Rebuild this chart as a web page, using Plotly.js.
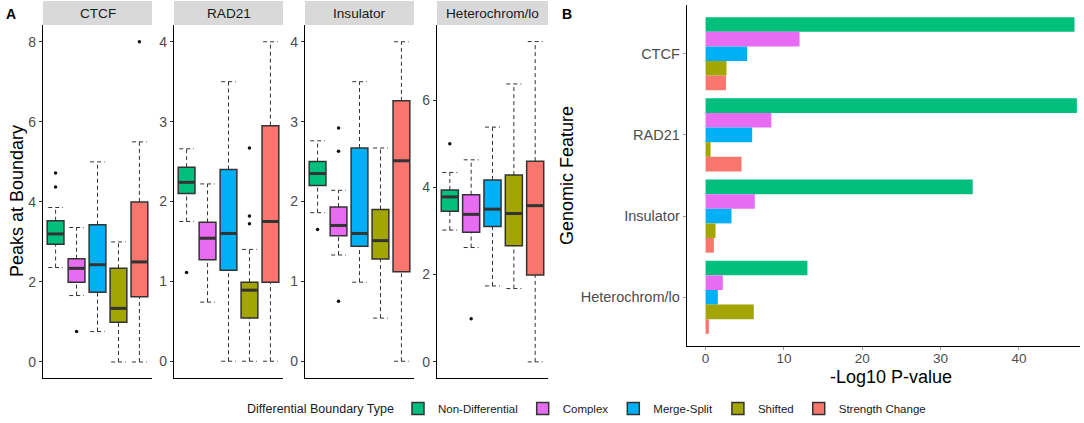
<!DOCTYPE html>
<html><head><meta charset="utf-8">
<script src="https://cdn.plot.ly/plotly-3.0.1.min.js"></script>
<style>html,body{margin:0;padding:0;background:#fff}#chart{width:1084px;height:423px}</style>
</head><body><div id="chart"></div><script>
const groups = ['Non-Differential','Complex','Merge-Split','Shifted','Strength Change'];
const colors = ['#00BF7D','#E76BF3','#00B0F6','#A3A500','#F8766D'];
const features = ['CTCF','RAD21','Insulator','Heterochrom/lo'];

// box statistics: rows = features, columns = groups
const whiskerLow  = [[2.36,1.66,0.76,0,0],[1.75,0.74,0,0,0],[1.86,1.33,0.99,0.54,0],[3.02,2.62,1.74,1.68,0]];
const q1          = [[2.94,1.99,1.74,0.99,1.63],[2.10,1.27,1.14,0.54,0.99],[2.20,1.57,1.44,1.28,1.12],[3.45,2.97,3.10,2.66,1.99]];
const med         = [[3.20,2.34,2.43,1.34,2.50],[2.24,1.54,1.60,0.89,1.75],[2.35,1.70,1.60,1.51,2.51],[3.78,3.38,3.50,3.40,3.58]];
const q3          = [[3.53,2.58,3.43,2.34,4.00],[2.43,1.74,2.40,0.99,2.95],[2.50,1.93,2.67,1.90,3.26],[3.94,3.83,4.17,4.28,4.60]];
const whiskerHigh = [[3.86,3.36,5.00,3.00,5.50],[2.66,2.22,3.50,1.40,4.00],[2.76,2.14,3.50,2.67,4.00],[4.34,4.63,5.38,6.37,7.34]];

const outlierFeature = [0,0,0,0,1,1,1,1,2,2,2,2,3,3];
const outlierGroup   = [0,0,1,4,0,3,3,3,0,1,1,1,0,1];
const outlierValue   = [4.72,4.37,0.76,8.0,1.11,2.67,1.82,1.72,1.65,2.92,2.63,0.75,5.0,0.99];

// -log10 p-values: rows = features, columns = groups
const pvals = [[47.1,12.0,5.3,2.67,2.6],[47.4,8.4,5.95,0.64,4.59],[34.1,6.28,3.31,1.27,1.06],[13.0,2.2,1.57,6.16,0.42]];

const yTickStep = [2,1,1,2];
const yRanges = [[-0.4,8.42],[-0.21,4.21],[-0.21,4.21],[-0.37,7.72]];

const W = 1084, H = 423;
const facetPx = [[43,152],[174,283],[305,414],[437,548]];
const yDomA = [(H-378)/H, (H-25)/H];
const font = 'Liberation Sans, Arial, sans-serif';
const tickGrey = '#4D4D4D';

const traces = [];
const boxHalf = 0.4, capHalf = 0.35;
features.forEach((f, fi) => {
  const ax = fi === 0 ? '' : String(fi+1);
  groups.forEach((g, gi) => {
    traces.push({
      type:'box', name:g, legendgroup:g, showlegend: fi===0,
      x:[gi+1], q1:[q1[fi][gi]], median:[med[fi][gi]], q3:[q3[fi][gi]],
      lowerfence:[q1[fi][gi]], upperfence:[q3[fi][gi]],
      width: 2*boxHalf, whiskerwidth:0, boxpoints:false,
      fillcolor: colors[gi], line:{color:'#333333', width:1.5},
      xaxis:'x'+ax, yaxis:'y'+ax, hoverinfo:'skip'
    });
  });
  // whiskers (dashed)
  const wx = [], wy = [];
  groups.forEach((g, gi) => {
    const c = gi+1;
    wx.push(c, c, null, c, c, null, c-capHalf, c+capHalf, null, c-capHalf, c+capHalf, null);
    wy.push(whiskerLow[fi][gi], q1[fi][gi], null, q3[fi][gi], whiskerHigh[fi][gi], null,
            whiskerLow[fi][gi], whiskerLow[fi][gi], null, whiskerHigh[fi][gi], whiskerHigh[fi][gi], null);
  });
  traces.push({type:'scatter', mode:'lines', x:wx, y:wy, showlegend:false, hoverinfo:'skip',
    line:{color:'#333333', width:1, dash:'4px,3px'}, xaxis:'x'+ax, yaxis:'y'+ax, connectgaps:false});
  // medians (thick)
  const mx = [], my = [];
  groups.forEach((g, gi) => {
    const c = gi+1;
    mx.push(c-boxHalf, c+boxHalf, null);
    my.push(med[fi][gi], med[fi][gi], null);
  });
  traces.push({type:'scatter', mode:'lines', x:mx, y:my, showlegend:false, hoverinfo:'skip',
    line:{color:'#333333', width:3}, xaxis:'x'+ax, yaxis:'y'+ax});
  // outliers
  const ox = [], oy = [];
  outlierFeature.forEach((of, k) => { if (of === fi) { ox.push(outlierGroup[k]+1); oy.push(outlierValue[k]); } });
  traces.push({type:'scatter', mode:'markers', x:ox, y:oy, showlegend:false, hoverinfo:'skip',
    marker:{color:'#111111', size:3.5}, xaxis:'x'+ax, yaxis:'y'+ax});
});

groups.forEach((g, gi) => {
  traces.push({type:'bar', orientation:'h', name:g, legendgroup:g, showlegend:false,
    y: features, x: features.map((f, fi) => pvals[fi][gi]),
    marker:{color:colors[gi]}, xaxis:'x5', yaxis:'y5', hoverinfo:'skip'});
});

const layout = {
  width:W, height:H, margin:{l:0,r:0,t:0,b:0}, paper_bgcolor:'#fff', plot_bgcolor:'rgba(0,0,0,0)',
  font:{family:font, color:'#1a1a1a'},
  boxmode:'overlay', barmode:'group', bargap:0.1, bargroupgap:0,
  showlegend:true,
  legend:{orientation:'h', x:398/W, xanchor:'left', y:(H-408.5)/H, yanchor:'middle',
    font:{size:11.5, family:font, color:'#1a1a1a'},
    traceorder:'normal', itemwidth:30, tracegroupgap:0, bgcolor:'rgba(0,0,0,0)'},
  shapes:[], annotations:[]
};

features.forEach((f, fi) => {
  const ax = fi === 0 ? '' : String(fi+1);
  layout['xaxis'+ax] = {domain:[facetPx[fi][0]/W, facetPx[fi][1]/W], range:[0.4,5.6], anchor:'y'+ax,
    showticklabels:false, ticks:'', showgrid:false, zeroline:false, showline:true, linecolor:'#000', linewidth:1.2, fixedrange:true};
  layout['yaxis'+ax] = {domain:yDomA, range:yRanges[fi], anchor:'x'+ax, dtick:yTickStep[fi], tick0:0,
    showgrid:false, zeroline:false, showline:true, linecolor:'#000', linewidth:1.2,
    ticks:'outside', ticklen:3, tickcolor:'#333', tickfont:{size:14, color:tickGrey, family:font}, fixedrange:true};
  const dref = (fi === 0 ? 'x' : 'x'+(fi+1)) + ' domain';
  layout.shapes.push({type:'rect', xref:dref, yref:'paper', x0:0, x1:1, y0:(H-25)/H, y1:(H-1)/H,
    fillcolor:'#D9D9D9', line:{width:0}, layer:'below'});
  layout.annotations.push({xref:dref, yref:'paper', x:0.5, y:(H-13)/H, text:f, showarrow:false,
    xanchor:'center', yanchor:'middle', font:{size:13.6, color:'#1a1a1a', family:font}});
});

layout.xaxis5 = {domain:[687/W, 1080/W], range:[-2.37,47.8], anchor:'y5', dtick:10, tick0:0,
  showgrid:false, zeroline:false, showline:true, linecolor:'#000', linewidth:1.3,
  ticks:'outside', ticklen:3, tickcolor:'#999', ticklabelstandoff:-4,
  tickfont:{size:13.5, color:tickGrey, family:font}, fixedrange:true};
layout.yaxis5 = {domain:[(H-346)/H, (H-5)/H], range:[3.6,-0.6], anchor:'x5', type:'category',
  categoryorder:'array', categoryarray:features,
  showgrid:false, zeroline:false, showline:true, linecolor:'#000', linewidth:1.3,
  ticks:'outside', ticklen:3, tickcolor:'#999', tickfont:{size:14.5, color:tickGrey, family:font}, fixedrange:true};

layout.annotations.push(
  {xref:'paper', yref:'paper', x:17/W, y:(H-201)/H, text:'Peaks at Boundary', textangle:-90, showarrow:false,
   xanchor:'center', yanchor:'middle', font:{size:18, color:'#000', family:font}},
  {xref:'paper', yref:'paper', x:567/W, y:(H-176)/H, text:'Genomic Feature', textangle:-90, showarrow:false,
   xanchor:'center', yanchor:'middle', font:{size:18, color:'#000', family:font}},
  {xref:'paper', yref:'paper', x:891/W, y:(H-377)/H, text:'-Log10 P-value', showarrow:false,
   xanchor:'center', yanchor:'middle', font:{size:18, color:'#000', family:font}},
  {xref:'paper', yref:'paper', x:396/W, y:(H-408.5)/H, text:'Differential Boundary Type', showarrow:false,
   xanchor:'right', yanchor:'middle', font:{size:12.5, color:'#1a1a1a', family:font}},
  {xref:'paper', yref:'paper', x:11/W, y:(H-14)/H, text:'<b>A</b>', showarrow:false,
   xanchor:'center', yanchor:'middle', font:{size:14, color:'#000', family:font}},
  {xref:'paper', yref:'paper', x:567/W, y:(H-14)/H, text:'<b>B</b>', showarrow:false,
   xanchor:'center', yanchor:'middle', font:{size:14, color:'#000', family:font}}
);

Plotly.newPlot('chart', traces, layout, {displayModeBar:false, staticPlot:true});
</script></body></html>
